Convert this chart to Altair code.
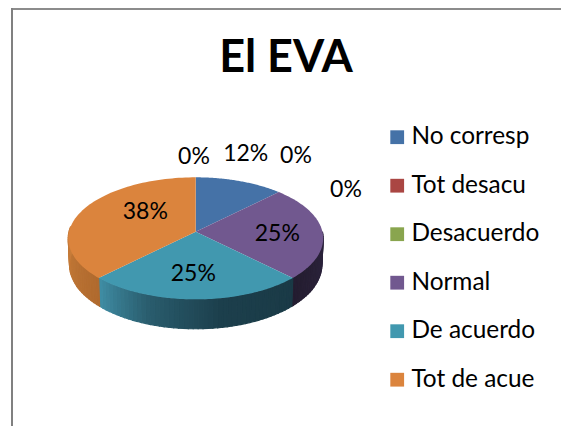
import numpy as np
import pandas as pd
import altair as alt

# ---- data ----
categories = ["No corresp", "Tot desacu", "Desacuerdo", "Normal", "De acuerdo", "Tot de acue"]
values = [12.5, 0, 0, 25, 25, 37.5]
pct_labels = ["12%", "0%", "0%", "25%", "25%", "38%"]
colors = ["#4572A7", "#AA4643", "#89A54E", "#71588F", "#4198AF", "#DB843D"]

# ---- layout (page pixels) ----
OFF = 8
cx, cy, R, A, K = 195.7, 231.7, 126.7, 60.3, 0.109
DEPTH, SX, SY = 26.0, 0.99, 1.05
label_x = [245.7, 296, 346, 277.3, 193.3, 145.3]
label_y = [154, 155.7, 190, 234.3, 274, 211.7]
extra_label = "0%"
extra_x, extra_y = 194, 157.3
side_stops = {
    "Normal": [(90, "#2e2540"), (135, "#241d30")],
    "De acuerdo": [(135, "#1a3a46"), (170, "#1c3f4c"), (200, "#2a5d6e"), (225, "#408ea5")],
    "Tot de acue": [(225, "#b06a2e"), (275, "#c87d3a")],
}


def top_pt(theta):
    t = np.radians(theta)
    d = 1 + K * np.cos(t)
    return [cx + R * np.sin(t) / d - OFF, cy - A * np.cos(t) / d - OFF]


def bot_pt(theta):
    t = np.radians(theta)
    d = 1 + K * np.cos(t)
    return [cx + SX * R * np.sin(t) / d - OFF, cy + DEPTH - SY * A * np.cos(t) / d - OFF]


def hex_mix(c1, c2, f):
    a = [int(c1[i:i + 2], 16) for i in (1, 3, 5)]
    b = [int(c2[i:i + 2], 16) for i in (1, 3, 5)]
    return "#%02x%02x%02x" % tuple(round(p + (q - p) * f) for p, q in zip(a, b))


def side_color(name, th):
    stops = side_stops[name]
    for (t0, c0), (t1, c1) in zip(stops, stops[1:]):
        if t0 <= th <= t1:
            return hex_mix(c0, c1, (th - t0) / (t1 - t0))
    return stops[-1][1]


# wedges of the top face and strips of the side wall, from the values
faces, strips = [], []
start = 0.0
for name, v in zip(categories, values):
    end = start + v * 3.6
    if v > 0:
        arc = [[float(p) for p in top_pt(t)] for t in np.linspace(start, end, 80)]
        apex = [cx - OFF, cy - OFF]
        faces.append({"type": "Feature", "properties": {"name": name},
                      "geometry": {"type": "Polygon", "coordinates": [[apex] + arc + [apex]]}})
        if name in side_stops:
            lo, hi = side_stops[name][0][0], side_stops[name][-1][0]
            for a0 in np.arange(lo, hi, 2.0):
                a1 = min(a0 + 2.0, hi)
                ring = [top_pt(a0), top_pt(a1), bot_pt(a1), bot_pt(a0), top_pt(a0)]
                ring = [[float(p) for p in q] for q in ring]
                strips.append({"type": "Feature",
                               "properties": {"fill": side_color(name, (a0 + a1) / 2)},
                               "geometry": {"type": "Polygon", "coordinates": [ring]}})
    start = end

proj = dict(type="identity", scale=1, translate=[0, 0])

side = alt.Chart(alt.Data(values=strips)).mark_geoshape(strokeWidth=1.2).encode(
    fill=alt.Color("properties.fill:N", scale=None, legend=None),
    stroke=alt.Color("properties.fill:N", scale=None, legend=None),
).project(**proj)

top = alt.Chart(alt.Data(values=faces)).mark_geoshape(strokeWidth=0).encode(
    color=alt.Color(
        "properties.name:N",
        scale=alt.Scale(domain=categories, range=colors),
        sort=categories,
        legend=alt.Legend(
            title=None, orient="none", legendX=377, legendY=117, padding=0,
            symbolType="square", symbolSize=190, symbolStrokeWidth=0, symbolOpacity=1,
            labelFont="Lato", labelFontSize=24.4, labelColor="#000000", labelOffset=2,
            labelLimit=200, rowPadding=23.5, offset=0,
        ),
    )
).project(**proj)

labels = pd.DataFrame({
    "x": [v - OFF for v in label_x] + [extra_x - OFF],
    "y": [v - OFF for v in label_y] + [extra_y - OFF],
    "t": pct_labels + [extra_label],
})
text = alt.Chart(labels).mark_text(font="Lato", fontSize=23, color="#000000", align="center", baseline="middle").encode(
    x=alt.X("x:Q", scale=None, axis=None),
    y=alt.Y("y:Q", scale=None, axis=None),
    text="t:N",
)

title = alt.Chart(pd.DataFrame({"t": ["El EVA"]})).mark_text(
    font="Lato", fontSize=45, fontWeight="bold", color="#000000", align="center", baseline="middle"
).encode(x=alt.value(286 - OFF), y=alt.value(58 - OFF), text="t:N")

frame_top = alt.Chart(pd.DataFrame({"a": [0]})).mark_rule(color="#8c8c8c", strokeWidth=2).encode(
    x=alt.value(4), x2=alt.value(553), y=alt.value(1))
frame_left = alt.Chart(pd.DataFrame({"a": [0]})).mark_rule(color="#808080", strokeWidth=2).encode(
    x=alt.value(4), y=alt.value(0), y2=alt.value(418))

chart = alt.layer(frame_top, frame_left, side, top, text, title).resolve_scale(
    color="independent", fill="independent", stroke="independent"
).properties(
    width=553, height=418, padding=0, autosize=alt.AutoSizeParams(type="none"), background="#ffffff"
).configure_view(stroke=None)

chart.save("out.html", embed_options={"renderer": "svg", "actions": False})
